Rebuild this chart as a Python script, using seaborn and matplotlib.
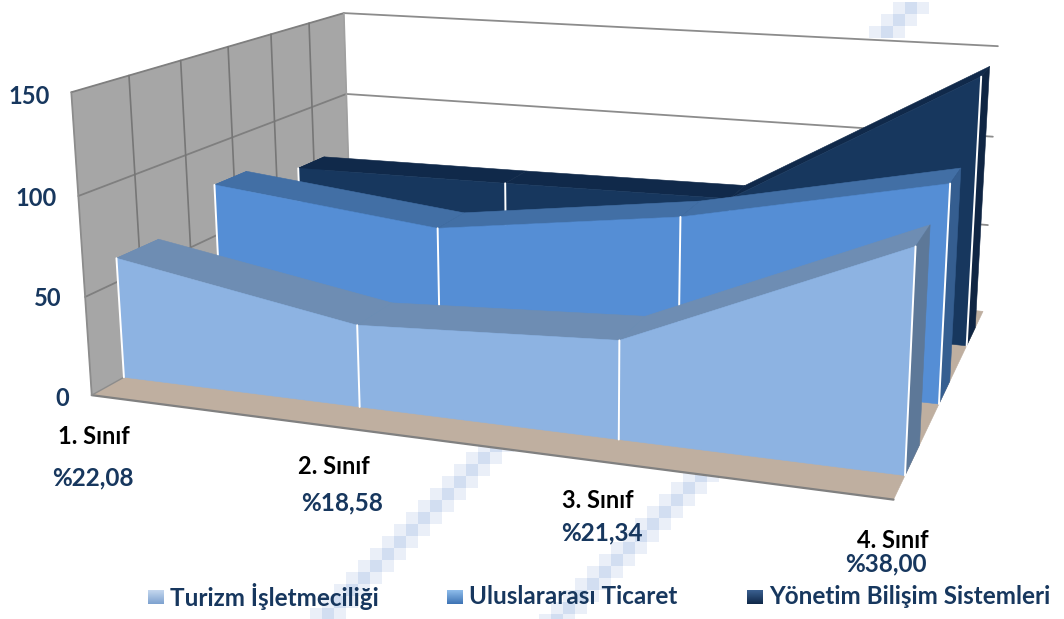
import numpy as np
import pandas as pd
import matplotlib
matplotlib.use("Agg")
import matplotlib.pyplot as plt
from matplotlib.patches import Polygon, Rectangle
import seaborn as sns

categories = ["1. Sınıf", "2. Sınıf", "3. Sınıf", "4. Sınıf"]
percent_labels = ["%22,08", "%18,58", "%21,34", "%38,00"]
series_names = ["Turizm İşletmeciliği", "Uluslararası Ticaret", "Yönetim Bilişim Sistemleri"]
turizm = [62, 41, 47.5, 103]
uluslararasi = [78, 65, 82, 109]
yonetim = [67, 68, 69.5, 144]
value_ticks = [0, 50, 100, 150]

NAVY = "#17375E"
sns.set_theme(style="white")
plt.rcParams["font.family"] = ["Lato", "DejaVu Sans"]

# --- projection of the 3-D chart box (u along categories, d in depth, z value) ---
anchors = [((0, 0, 150), (72, 91)), ((0, 0, 100), (79, 196)), ((0, 0, 50), (85, 297)), ((0, 0, 0), (91, 396)),
           ((0, 1, 150), (343, 13)), ((0, 1, 100), (346, 95)), ((0, 1, 0), (352, 250)),
           ((1, 1, 150), (998, 46)), ((1, 1, 100), (993, 137)), ((1, 1, 50), (988, 226)), ((1, 1, 0), (983, 310)),
           ((1, 0, 0), (893, 500))]
A, b = [], []
for (u, d, z), (px, py) in anchors:
    A.append([u, d, z, 1, 0, 0, 0, 0, -px * u, -px * d, -px * z]); b.append(px)
    A.append([0, 0, 0, 0, u, d, z, 1, -py * u, -py * d, -py * z]); b.append(py)
sol = np.linalg.lstsq(np.array(A, float), np.array(b, float), rcond=None)[0]
P = np.append(sol, 1.0).reshape(3, 4)


def proj(u, d, z):
    v = P @ np.array([u, d, z, 1.0])
    return v[0] / v[2], v[1] / v[2]


fig = plt.figure(figsize=(10.64, 6.19), dpi=100)
ax = fig.add_axes([0, 0, 1, 1])
ax.set_xlim(0, 1064)
ax.set_ylim(619, 0)
ax.axis("off")


def face(pts, color, z=5, **kw):
    ax.add_patch(Polygon([proj(*p) for p in pts], closed=True, facecolor=color, edgecolor=color,
                         linewidth=0.4, zorder=z, **kw))


def line(p0, p1, color, lw, z=6):
    a, c = proj(*p0), proj(*p1)
    sns.lineplot(x=[a[0], c[0]], y=[a[1], c[1]], color=color, linewidth=lw, ax=ax, zorder=z,
                 estimator=None, sort=False, legend=False)


# --- pale pixel stripes behind the chart ---
def stripe(x0, y0, steps, cell=12):
    for k in range(steps):
        cx, cy = x0 - k * cell, y0 + k * cell
        for off, col in [(-1, "#EAEFF8"), (0, "#D2DEF1"), (1, "#EAEFF8")]:
            ax.add_patch(Rectangle((cx + off * cell, cy), cell, cell, facecolor=col, edgecolor="none", zorder=1))


stripe(490, 440, 16)
stripe(695, 470, 14)
stripe(905, 2, 3)

# --- walls and floor ---
ZT = 150
face([(0, 1, 0), (1, 1, 0), (1, 1, ZT), (0, 1, ZT)], "white", z=2)
face([(0, 0, 0), (0, 1, 0), (0, 1, ZT), (0, 0, ZT)], "#A6A6A6", z=3)
face([(0, 0, 0), (1, 0, 0), (1, 1, 0), (0, 1, 0)], "#BFAFA0", z=3)
line((0, 0, 0), (1, 0, 0), "#808080", 1.6, z=3)
for zv in [50, 100, 150]:
    line((0, 0, zv), (0, 1, zv), "#7F7F7F", 1.3, z=4)
    line((0, 1, zv), (1, 1, zv), "#8C8C8C", 1.3, z=4)
line((0, 0, 0), (0, 0, ZT), "#8C8C8C", 1.3, z=4)
line((0, 1, 0), (0, 1, ZT), "#A0A0A0", 1.2, z=4)
line((0, 0, 0), (0, 1, 0), "#8C8C8C", 1.0, z=4)
for dv in [0.171, 0.34, 0.51, 0.678, 0.84]:
    line((0, dv, 0), (0, dv, ZT), "#767676", 1.2, z=4)

# --- the three area ribbons, back to front ---
series = [
    (yonetim, 0.77, 0.887, "#17375E", "#10294A", "#0F2543"),
    (uluslararasi, 0.436, 0.559, "#558ED5", "#426FA5", "#355E90"),
    (turizm, 0.099, 0.235, "#8DB3E2", "#6E8DB3", "#5D7898"),
]
us = np.arange(len(categories)) / (len(categories) - 1)
base = 10
for vals, d0, d1, c_front, c_top, c_side in series:
    for j in range(len(us) - 1):
        face([(us[j], d0, vals[j]), (us[j + 1], d0, vals[j + 1]),
              (us[j + 1], d1, vals[j + 1]), (us[j], d1, vals[j])], c_top, z=base)
    face([(us[0], d0, vals[0]), (us[0], d1, vals[0]), (us[0], d1, 0), (us[0], d0, 0)], c_top, z=base)
    face([(1, d0, 0), (1, d0, vals[-1]), (1, d1, vals[-1]), (1, d1, 0)], c_side, z=base + 1)
    front = [(u, d0, v) for u, v in zip(us, vals)] + [(1, d0, 0), (0, d0, 0)]
    face(front, c_front, z=base + 2)
    for u, v in zip(us, vals):
        line((u, d0, 0), (u, d0, v), "white", 1.4, z=base + 3)
    base += 5

# --- text ---
tick_pos = {150: (50, 96), 100: (57, 199), 50: (62, 299), 0: (69, 398)}
for v in value_ticks:
    x, y = tick_pos[v]
    ax.text(x, y, str(v), ha="right", va="center", fontsize=17, fontweight="bold", color=NAVY, zorder=40)

cat_pos = [(94, 437), (334, 467), (598, 501), (893, 541)]
pct_pos = [(93, 478), (342, 503), (602, 533), (886, 564)]
for name, pct, cp, pp in zip(categories, percent_labels, cat_pos, pct_pos):
    ax.text(*cp, name, ha="center", va="center", fontsize=17, fontweight="bold", color="black", zorder=40)
    ax.text(*pp, pct, ha="center", va="center", fontsize=17.5, fontweight="bold", color=NAVY, zorder=40)

leg_x = [148, 447, 747]
leg_colors = [("#C3D6EE", "#7FA3D0"), ("#8DBBEA", "#3F75B5"), ("#3A5F8F", "#10294A")]
for x, name, (c1, c2) in zip(leg_x, series_names, leg_colors):
    cm = matplotlib.colors.LinearSegmentedColormap.from_list("g", [c1, c2])
    ax.imshow(np.linspace(0, 1, 16).reshape(-1, 1), cmap=cm, extent=(x, x + 16, 604, 590),
              aspect="auto", zorder=40)
    ax.text(x + 22, 597, name, ha="left", va="center", fontsize=17.5, fontweight="bold", color=NAVY, zorder=40)

ax.set_xlim(0, 1064)
ax.set_ylim(619, 0)
fig.savefig("out.png", dpi=100)
